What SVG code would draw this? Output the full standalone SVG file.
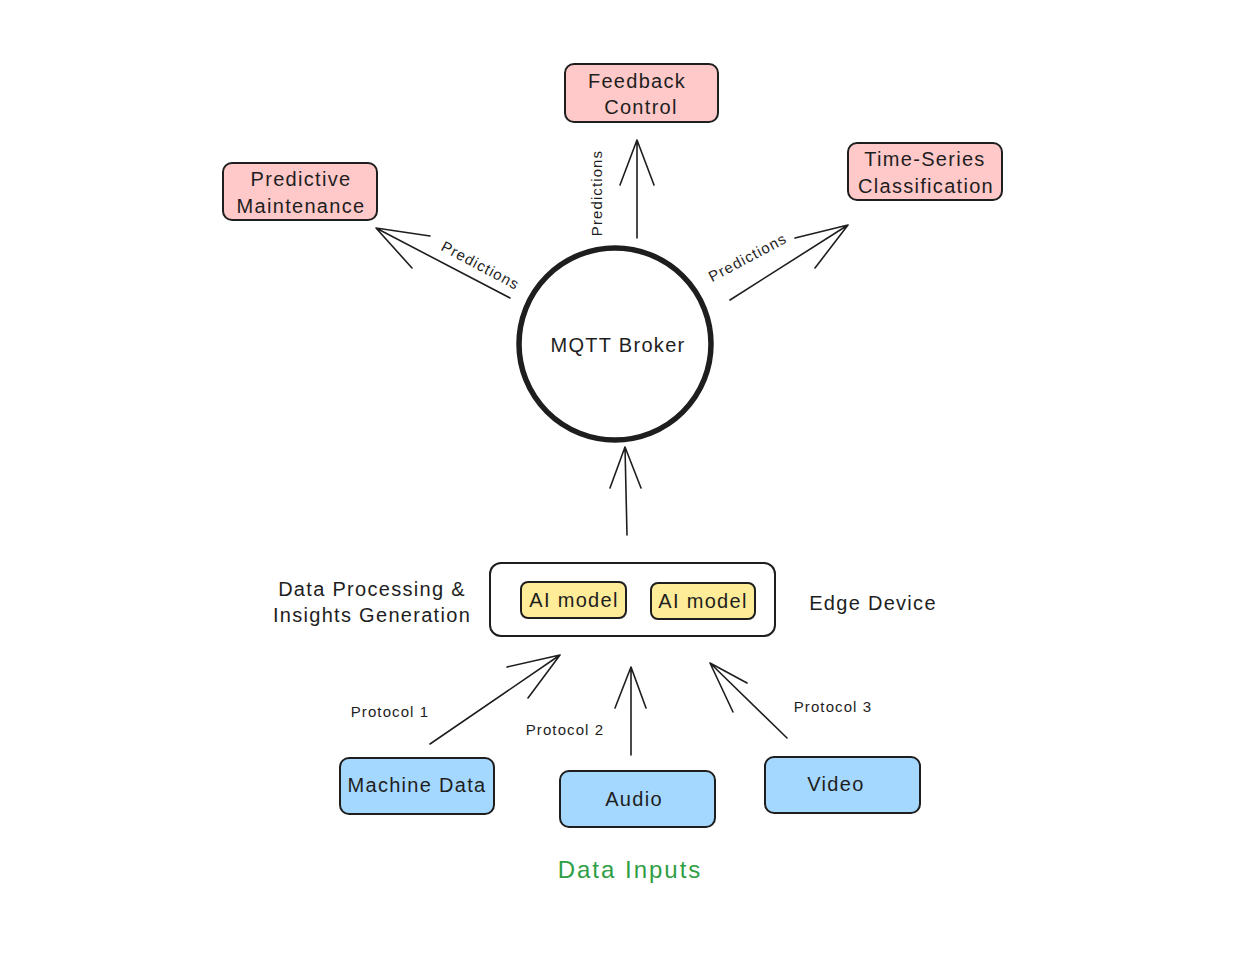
<svg xmlns="http://www.w3.org/2000/svg" width="1248" height="980" viewBox="0 0 1248 980">
<defs>
<style>
.t{font-family:"Liberation Sans",Arial,sans-serif;fill:#1e1e1e;text-anchor:middle}
.n{font-size:20px;letter-spacing:1.3px}
.s{font-size:15px;letter-spacing:1.1px}
.box{stroke:#1e1e1e;stroke-width:2;stroke-linejoin:round}
.pink{fill:#ffc9c9}
.blue{fill:#a5d8ff}
.yel{fill:#ffec99}
.ln{stroke:#1e1e1e;stroke-width:1.6;fill:none;stroke-linecap:round}
</style>
</defs>
<rect width="1248" height="980" fill="#ffffff"/>

<g id="feedback-control">
<rect class="box pink" x="565" y="64" width="153" height="58" rx="9"/>
<text class="t n" x="637" y="88">Feedback</text>
<text class="t n" x="641" y="114">Control</text>
</g>

<g id="predictive-maintenance">
<rect class="box pink" x="223" y="163" width="154" height="57" rx="9"/>
<text class="t n" x="301" y="186">Predictive</text>
<text class="t n" x="301" y="213">Maintenance</text>
</g>

<g id="time-series">
<rect class="box pink" x="848" y="143" width="154" height="57" rx="9"/>
<text class="t n" x="925" y="166">Time-Series</text>
<text class="t n" x="926" y="193">Classification</text>
</g>

<g id="mqtt-broker">
<circle cx="615" cy="344" r="96" fill="#ffffff" stroke="#1e1e1e" stroke-width="5.5"/>
<text class="t n" x="618" y="352">MQTT Broker</text>
</g>

<g id="edge-device">
<rect x="490" y="563" width="285" height="73" rx="11" fill="#ffffff" stroke="#1e1e1e" stroke-width="2"/>
<text class="t n" x="873" y="610">Edge Device</text>
<text class="t n" x="372" y="596">Data Processing &amp;</text>
<text class="t n" x="372" y="622">Insights Generation</text>
</g>

<g id="ai-model-1">
<rect class="box yel" x="521" y="582" width="105" height="36" rx="7"/>
<text class="t n" x="574" y="607">AI model</text>
</g>

<g id="ai-model-2">
<rect class="box yel" x="651" y="583" width="104" height="36" rx="7"/>
<text class="t n" x="703" y="608">AI model</text>
</g>

<g id="machine-data">
<rect class="box blue" x="340" y="758" width="154" height="56" rx="9"/>
<text class="t n" x="417" y="792">Machine Data</text>
</g>

<g id="audio">
<rect class="box blue" x="560" y="771" width="155" height="56" rx="9"/>
<text class="t n" x="634" y="806">Audio</text>
</g>

<g id="video">
<rect class="box blue" x="765" y="757" width="155" height="56" rx="9"/>
<text class="t n" x="836" y="791">Video</text>
</g>

<g id="data-inputs-label">
<text class="t" x="630" y="878" style="fill:#2f9e44;font-size:24px;letter-spacing:2px">Data Inputs</text>
</g>

<g id="connectors">
<path class="ln" d="M637 238 L637 140 M637 140 L620 185 M637 140 L654 185"/>
<path class="ln" d="M510 298 L376 228 M376 228 L412 268 M376 228 L430 236"/>
<path class="ln" d="M730 300 L848 225 M848 225 L795 238 M848 225 L815 268"/>
<path class="ln" d="M627 535 L625 447 M625 447 L610 488 M625 447 L641 488"/>
<path class="ln" d="M430 744 L560 655 M560 655 L507 667 M560 655 L528 698"/>
<path class="ln" d="M631 755 L631 667 M631 667 L615 708 M631 667 L646 708"/>
<path class="ln" d="M787 738 L710 663 M710 663 L747 683 M710 663 L733 712"/>
<text class="t s" transform="translate(478 270) rotate(28)">Predictions</text>
<text class="t s" transform="translate(602 193) rotate(-90)">Predictions</text>
<text class="t s" transform="translate(750 262) rotate(-28)">Predictions</text>
<text class="t s" x="390" y="717">Protocol 1</text>
<text class="t s" x="565" y="735">Protocol 2</text>
<text class="t s" x="833" y="712">Protocol 3</text>
</g>
</svg>
